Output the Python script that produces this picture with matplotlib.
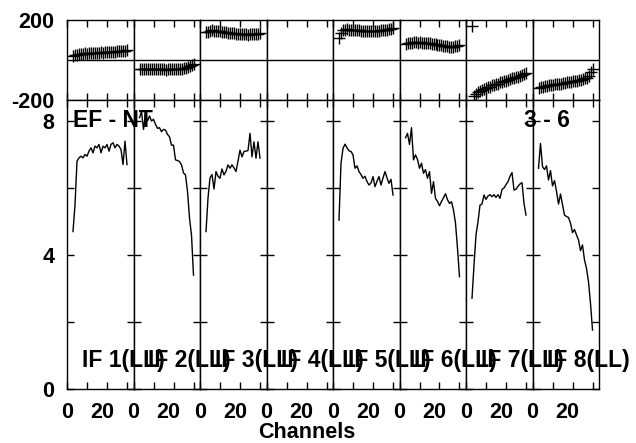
import matplotlib
matplotlib.use("Agg")
import matplotlib.pyplot as plt
from matplotlib.transforms import ScaledTranslation

plt.rcParams['font.family'] = ['Liberation Sans', 'DejaVu Sans']
plt.rcParams['font.weight'] = 'bold'

# ---------------- data ----------------
channels = list(range(3, 31))
if_labels = ["IF 1(LL)", "IF 2(LL)", "IF 3(LL)", "IF 4(LL)",
             "IF 5(LL)", "IF 6(LL)", "IF 7(LL)", "IF 8(LL)"]

amp_if1 = [4.7, 5.5, 6.8, 6.9, 6.95, 6.9, 7.0, 6.95, 7.1, 7.2, 7.05, 7.25, 7.2, 7.3,
           7.05, 7.25, 7.2, 7.3, 7.1, 7.3, 7.35, 7.2, 7.3, 7.25, 7.15, 6.7, 7.4, 6.7]
amp_if2 = [8.1, 8.28, 7.75, 8.2, 8.0, 8.15, 8.0, 8.05, 7.9, 7.78, 7.8, 7.68, 7.75, 7.73,
           7.6, 7.53, 7.28, 7.28, 6.84, 6.82, 6.79, 6.69, 6.45, 6.39, 5.9, 5.1, 4.6, 3.4]
amp_if3 = [4.7, 5.7, 6.3, 6.4, 5.97, 6.49, 6.35, 6.29, 6.57, 6.39, 6.5, 6.69, 6.59, 6.69,
           6.6, 6.49, 6.8, 7.13, 6.93, 7.09, 7.1, 7.12, 7.63, 6.93, 7.38, 6.89, 7.38, 6.89]
amp_if4 = []
amp_if5 = [5.04, 6.74, 7.18, 7.31, 7.2, 7.11, 7.09, 6.99, 6.59, 6.66, 6.49, 6.4, 6.29, 6.35,
           6.19, 6.09, 6.15, 6.34, 6.04, 6.2, 6.34, 6.09, 6.3, 6.49, 6.3, 6.14, 6.26, 5.79]
amp_if6 = [7.5, 7.63, 7.3, 7.8, 6.84, 6.99, 6.85, 6.59, 6.74, 6.44, 6.55, 6.29, 6.49, 5.84,
           6.19, 5.69, 5.6, 5.47, 5.6, 5.71, 5.83, 5.65, 5.54, 5.59, 5.34, 4.95, 4.2, 3.35]
amp_if7 = [2.71, 3.7, 4.6, 4.99, 5.49, 5.52, 5.79, 5.66, 5.76, 5.8, 5.74, 5.8, 5.72, 5.8,
           5.69, 5.96, 6.0, 6.1, 6.19, 6.35, 6.46, 5.94, 5.96, 6.05, 6.12, 6.16, 5.54, 5.19]
amp_if8 = [6.59, 7.33, 6.64, 6.55, 6.66, 6.24, 6.52, 6.06, 6.22, 5.9, 5.52, 5.82, 5.5, 5.19,
           5.15, 5.12, 4.95, 4.67, 4.76, 4.6, 4.45, 4.13, 4.3, 3.85, 3.6, 3.2, 2.56, 1.76]

ph_if1 = [20, 26, 27, 30, 29, 32, 33, 32, 34, 35, 34, 36, 37, 36,
          38, 37, 39, 40, 39, 41, 42, 41, 43, 44, 43, 45, 47, 50]
ph_if2 = [-47, -44, -46, -45, -47, -44, -46, -45, -47, -46, -45, -47, -46, -48,
          -46, -47, -45, -47, -46, -44, -45, -43, -40, -38, -34, -30, -27, -22]
ph_if3 = [140, 142, 146, 148, 147, 145, 146, 143, 142, 140, 139, 137, 136, 134,
          133, 132, 131, 130, 129, 128, 128, 127, 128, 129, 130, 131, 132, 134]
ph_if4 = []
ph_if5 = [108, 133, 148, 152, 153, 152, 151, 150, 150, 149, 148, 147, 147, 146,
          146, 145, 146, 145, 146, 147, 147, 148, 149, 150, 151, 153, 156, 162]
ph_if6 = [80, 84, 86, 87, 88, 88, 87, 88, 87, 86, 85, 84, 83, 82,
          80, 79, 77, 75, 73, 71, 70, 68, 67, 66, 66, 68, 70, 73]
ph_if7 = [170, -182, -172, -160, -156, -149, -147, -140, -137, -133, -127, -125, -120, -118,
          -112, -111, -105, -104, -98, -97, -91, -90, -85, -83, -78, -76, -70, -66]
ph_if8 = [-138, -134, -133, -130, -129, -125, -127, -124, -122, -121, -119, -118, -116, -115,
          -112, -110, -108, -107, -105, -103, -101, -99, -96, -92, -88, -78, -62, -45]

amps = [amp_if1, amp_if2, amp_if3, amp_if4, amp_if5, amp_if6, amp_if7, amp_if8]
phases = [ph_if1, ph_if2, ph_if3, ph_if4, ph_if5, ph_if6, ph_if7, ph_if8]

# ---------------- layout ----------------
W, H = 636, 443
fig = plt.figure(figsize=(W / 100, H / 100), dpi=100)

x0, colw = 67, 66.5
ph_top, ph_bot = 20, 100
am_top, am_bot = 100, 389
xmax = colw / 2.0
amp_top = (am_bot - am_top) / 33.5

TS = 15.5
AS = 16.5

def fx(px):
    return px / W

def fy(py):
    return 1 - py / H

for c in range(8):
    left = fx(x0 + colw * c)
    w = colw / W
    axp = fig.add_axes([left, fy(ph_bot), w, (ph_bot - ph_top) / H])
    axa = fig.add_axes([left, fy(am_bot), w, (am_bot - am_top) / H])

    for ax in (axp, axa):
        for s in ax.spines.values():
            s.set_linewidth(1.0)
            s.set_color('black')
        ax.set_xlim(0, xmax)
        ax.set_xticks([0, 10, 20, 30])
        ax.tick_params(axis='x', direction='in', length=5, width=1,
                       top=True, bottom=True, labelsize=TS, pad=9)

    # phase panel
    axp.set_ylim(-200, 200)
    axp.axhline(0, color='black', lw=1.0)
    axp.set_xticklabels([])
    axp.set_yticks([-200, 200])
    axp.tick_params(axis='y', length=0, labelsize=TS, pad=9)
    if c == 0:
        axp.set_yticklabels(['-200', '200'], fontweight='bold')
    else:
        axp.set_yticklabels([])
    if phases[c]:
        axp.plot(channels, phases[c], linestyle='none', marker='+',
                 markersize=8, markeredgewidth=1.0, color='black')

    # amplitude panel
    axa.set_ylim(0, amp_top)
    axa.set_yticks([0, 2, 4, 6, 8])
    axa.tick_params(axis='y', direction='in', length=5, width=1,
                    left=True, right=True, labelsize=TS, pad=9)
    if c == 0:
        axa.set_yticklabels(['0', '', '4', '', '8'], fontweight='bold')
    else:
        axa.set_yticklabels([])
    axa.set_xticklabels(['0', '', '20', ''], fontweight='bold')
    lab20 = axa.get_xticklabels()[2]
    lab20.set_transform(lab20.get_transform() + ScaledTranslation(-5 / 100, 0, fig.dpi_scale_trans))
    if amps[c]:
        axa.plot(channels, amps[c], color='black', lw=1.0)

    fig.text(fx(81.7 + colw * c), fy(361), if_labels[c], fontsize=AS,
             fontweight='bold', ha='left', va='center')

fig.text(fx(73), fy(121), "EF - NT", fontsize=AS, fontweight='bold',
         ha='left', va='center')
fig.text(fx(524), fy(121), "3 - 6", fontsize=AS, fontweight='bold',
         ha='left', va='center')
fig.text(fx(307), fy(432), "Channels", fontsize=TS, fontweight='bold',
         ha='center', va='center')

fig.savefig("out.png", dpi=100)
